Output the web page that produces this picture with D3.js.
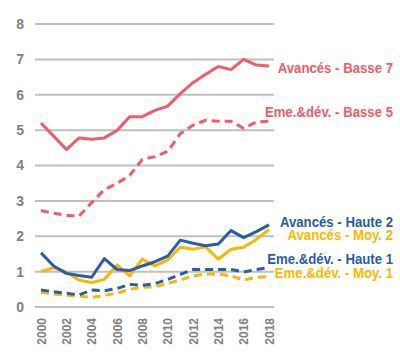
<!DOCTYPE html>
<html>
<head>
<meta charset="utf-8">
<script src="https://cdn.jsdelivr.net/npm/d3@7"></script>
<style>
  body { margin: 0; background: #fff; }
  svg { display: block; }
</style>
</head>
<body>
<svg id="chart" width="400" height="363"></svg>
<script>
// Data
const years = d3.range(2000, 2019);
const yTicks = [0, 1, 2, 3, 4, 5, 6, 7, 8];
const xTicks = [2000, 2002, 2004, 2006, 2008, 2010, 2012, 2014, 2016, 2018];

const avBasse7 = [5.2, 4.83, 4.45, 4.78, 4.74, 4.78, 4.99, 5.38, 5.38, 5.56, 5.68, 6.03, 6.34, 6.58, 6.8, 6.71, 7.0, 6.84, 6.81];
const emBasse5 = [2.73, 2.65, 2.59, 2.57, 2.95, 3.32, 3.49, 3.72, 4.17, 4.25, 4.4, 4.9, 5.14, 5.28, 5.25, 5.25, 5.05, 5.23, 5.25];
const avHaute2 = [1.53, 1.16, 0.95, 0.89, 0.84, 1.37, 1.06, 1.03, 1.16, 1.28, 1.44, 1.89, 1.8, 1.73, 1.78, 2.16, 1.96, 2.13, 2.32];
const avMoy2   = [1.0, 1.11, 0.99, 0.76, 0.69, 0.78, 1.19, 0.88, 1.35, 1.16, 1.33, 1.69, 1.63, 1.7, 1.35, 1.63, 1.69, 1.91, 2.19];
const emHaute1 = [0.48, 0.43, 0.39, 0.34, 0.48, 0.46, 0.52, 0.64, 0.61, 0.66, 0.78, 0.92, 1.06, 1.06, 1.06, 1.06, 0.99, 1.06, 1.11];
const emMoy1   = [0.41, 0.37, 0.33, 0.31, 0.27, 0.33, 0.39, 0.5, 0.56, 0.57, 0.67, 0.76, 0.88, 0.93, 0.93, 0.88, 0.76, 0.84, 0.86];

const red = "#f25c68", blue = "#2a5ca8", yellow = "#f7b800";

const series = [
  { name: "Avancés - Basse 7", values: avBasse7, color: red, dash: null, labelY: 68 },
  { name: "Eme.&dév. - Basse 5", values: emBasse5, color: red, dash: "8,5", labelY: 112 },
  { name: "Avancés - Moy. 2", values: avMoy2, color: yellow, dash: null, labelY: 235 },
  { name: "Avancés - Haute 2", values: avHaute2, color: blue, dash: null, labelY: 222 },
  { name: "Eme.&dév. - Moy. 1", values: emMoy1, color: yellow, dash: "8,5", labelY: 273 },
  { name: "Eme.&dév. - Haute 1", values: emHaute1, color: blue, dash: "8,5", labelY: 259 }
];

const svg = d3.select("#chart");

const x = d3.scaleLinear().domain([2000, 2018]).range([41, 269]);
const y = d3.scaleLinear().domain([0, 8]).range([307, 24]);

// gridlines
svg.append("g")
  .selectAll("line")
  .data(yTicks)
  .join("line")
  .attr("x1", 35).attr("x2", 274)
  .attr("y1", d => y(d)).attr("y2", d => y(d))
  .attr("stroke", "#bfbfbf")
  .attr("stroke-width", 2);

// y axis labels
const yAxis = svg.append("g")
  .attr("transform", "translate(24,0)")
  .call(d3.axisLeft(y).tickValues(yTicks).tickSize(0).tickPadding(0).tickFormat(d3.format("d")));
yAxis.select(".domain").remove();
yAxis.selectAll("text")
  .attr("fill", "#808080")
  .style("font-family", "Liberation Sans, Arial, sans-serif")
  .style("font-size", "14px")
  .style("font-weight", "bold");

// x axis labels (rotated)
const xAxis = svg.append("g")
  .attr("transform", "translate(0,316)")
  .call(d3.axisBottom(x).tickValues(xTicks).tickSize(0).tickFormat(d3.format("d")));
xAxis.select(".domain").remove();
xAxis.selectAll("text")
  .attr("fill", "#808080")
  .attr("transform", "rotate(-90)")
  .attr("text-anchor", "end")
  .attr("x", -2)
  .attr("y", 0)
  .attr("dy", "0.35em")
  .style("font-family", "Liberation Sans, Arial, sans-serif")
  .style("font-size", "12px")
  .style("font-weight", "bold");

// lines
const line = d3.line()
  .x((d, i) => x(years[i]))
  .y(d => y(d));

svg.append("g")
  .selectAll("path")
  .data(series)
  .join("path")
  .attr("d", d => line(d.values))
  .attr("fill", "none")
  .attr("stroke", d => d.color)
  .attr("stroke-width", 3)
  .attr("stroke-dasharray", d => d.dash)
  .attr("stroke-linejoin", "round");

// labels (condensed like Arial Narrow)
svg.append("g")
  .selectAll("text")
  .data(series)
  .join("text")
  .attr("transform", d => `translate(393,${d.labelY}) scale(0.88,1)`)
  .attr("dy", "0.35em")
  .attr("text-anchor", "end")
  .attr("fill", d => d.color)
  .style("font-family", "Liberation Sans, Arial, sans-serif")
  .style("font-size", "15px")
  .style("font-weight", "bold")
  .text(d => d.name);
</script>
</body>
</html>
